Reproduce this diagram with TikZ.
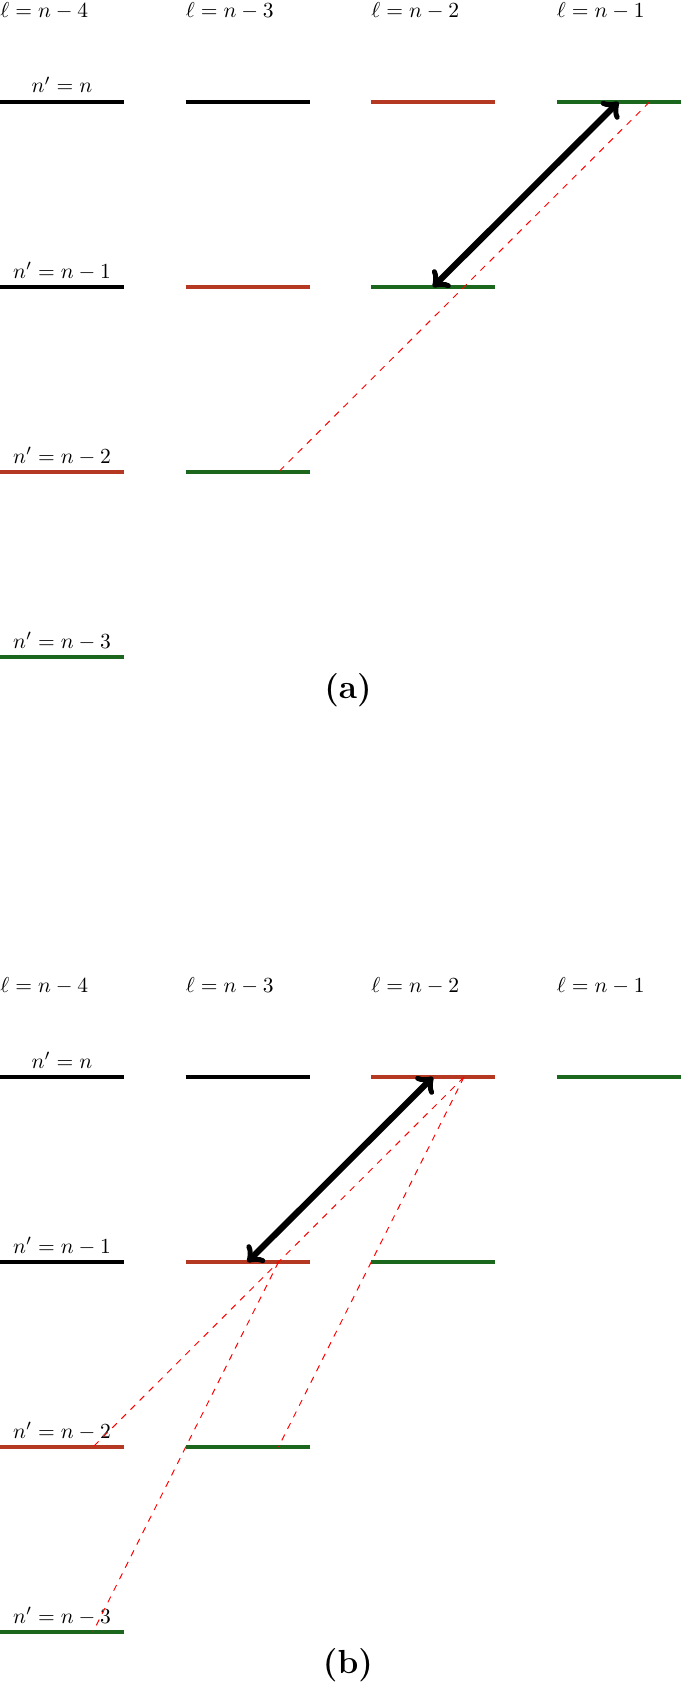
\documentclass[tikz,border=0pt]{standalone}
\usetikzlibrary{arrows}
\definecolor{lred}{RGB}{181,57,34}
\definecolor{lgreen}{RGB}{27,103,30}
\tikzset{
  lev/.style={line width=1.5pt},
  transarrow/.style={<->, line width=2.9pt},
  dashline/.style={red, dashed, line width=0.45pt},
  llabel/.style={anchor=base west, inner sep=0pt},
  nlabel/.style={anchor=base, inner sep=0pt},
  sublabel/.style={anchor=base, inner sep=0pt, font=\fontsize{15.5}{18}\selectfont\bfseries}
}
\newcommand\mklevel[4]{%
  \draw[lev,#4] ({#2*185.5},#3) coordinate (#1-w) -- coordinate[pos=0.5] (#1-c) coordinate[pos=0.75] (#1-q) ({#2*185.5+124},#3) coordinate (#1-e);%
}
\begin{document}
\begin{tikzpicture}[x=0.465pt,y=-0.465pt]
\useasboundingbox (0,0) rectangle (681,1682);

% ---------------- (a) ----------------
\node[llabel] (al1) at (0,17.5) {$\ell = n-4$};
\node[llabel] (al2) at (185.5,17.5) {$\ell = n-3$};
\node[llabel] (al3) at (371,17.5) {$\ell = n-2$};
\node[llabel] (al4) at (556.5,17.5) {$\ell = n-1$};

\mklevel{a10}{0}{102}{black}
\mklevel{a11}{0}{287}{black}
\mklevel{a12}{0}{472}{lred}
\mklevel{a13}{0}{657}{lgreen}
\mklevel{a20}{1}{102}{black}
\mklevel{a21}{1}{287}{lred}
\mklevel{a22}{1}{472}{lgreen}
\mklevel{a30}{2}{102}{lred}
\mklevel{a31}{2}{287}{lgreen}
\mklevel{a40}{3}{102}{lgreen}

\node[nlabel] (an0) at (62,93) {$n' = n$};
\node[nlabel] (an1) at (62,278) {$n' = n-1$};
\node[nlabel] (an2) at (62,463) {$n' = n-2$};
\node[nlabel] (an3) at (62,648) {$n' = n-3$};

\draw[dashline] (a40-q) -- (a31-q) -- (a22-q);
\draw[transarrow] (a31-c) -- (a40-c);

\node[sublabel] (capa) at (348,698) {(a)};

% ---------------- (b) ----------------
\node[llabel] (bl1) at (0,992) {$\ell = n-4$};
\node[llabel] (bl2) at (185.5,992) {$\ell = n-3$};
\node[llabel] (bl3) at (371,992) {$\ell = n-2$};
\node[llabel] (bl4) at (556.5,992) {$\ell = n-1$};

\mklevel{b10}{0}{1077}{black}
\mklevel{b11}{0}{1262}{black}
\mklevel{b12}{0}{1447}{lred}
\mklevel{b13}{0}{1632}{lgreen}
\mklevel{b20}{1}{1077}{black}
\mklevel{b21}{1}{1262}{lred}
\mklevel{b22}{1}{1447}{lgreen}
\mklevel{b30}{2}{1077}{lred}
\mklevel{b31}{2}{1262}{lgreen}
\mklevel{b40}{3}{1077}{lgreen}

\node[nlabel] (bn0) at (62,1068) {$n' = n$};
\node[nlabel] (bn1) at (62,1253) {$n' = n-1$};
\node[nlabel] (bn2) at (62,1438) {$n' = n-2$};
\node[nlabel] (bn3) at (62,1623) {$n' = n-3$};

\draw[dashline] (b30-q) -- (b21-q) -- (b12-q);
\draw[dashline] (b21-q) -- (b13-q);
\draw[dashline] (b30-q) -- (b22-q);
\draw[transarrow] (b21-c) -- (b30-c);

\node[sublabel] (capb) at (348,1673) {(b)};
\end{tikzpicture}
\end{document}
